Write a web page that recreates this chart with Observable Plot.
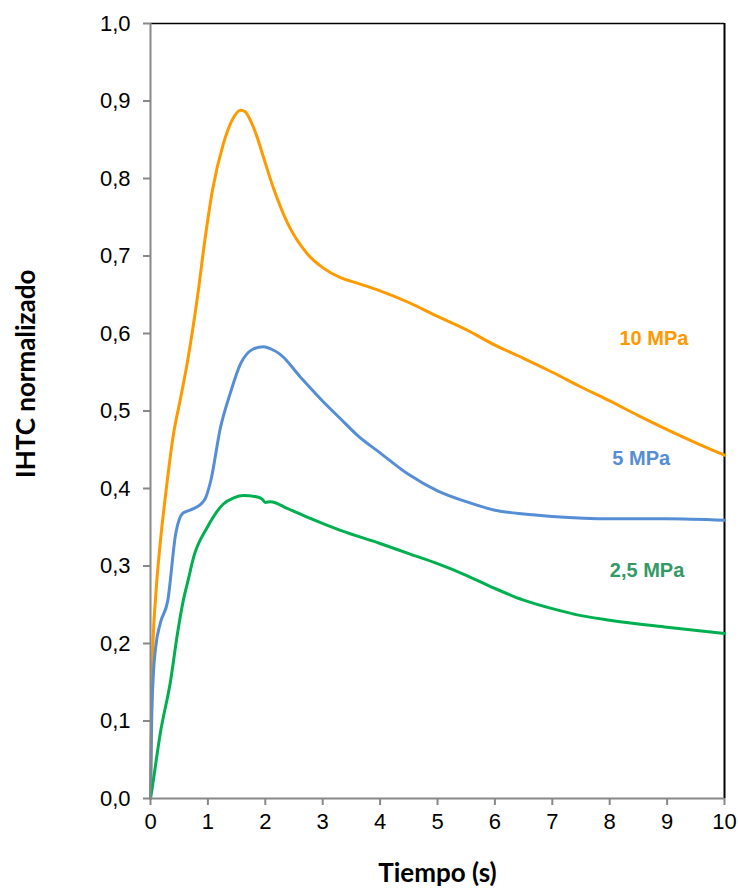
<!DOCTYPE html>
<html>
<head>
<meta charset="utf-8">
<script src="https://cdn.jsdelivr.net/npm/d3@7"></script>
<script src="https://cdn.jsdelivr.net/npm/@observablehq/plot@0.6"></script>
<style>
  html, body { margin: 0; padding: 0; background: #fff; }
  #chart { width: 738px; height: 888px; }
</style>
</head>
<body>
<div id="chart"></div>
<script>
// 10 MPa
const t10 = [0, 0.02, 0.04, 0.09, 0.17, 0.26, 0.40, 0.52, 0.64, 0.82, 0.95, 1.08, 1.27, 1.42, 1.57, 1.65, 1.74, 1.85, 1.97, 2.14, 2.39, 2.73, 3.0, 3.31, 3.6, 4.0, 4.5, 5.0, 5.5, 6.0, 6.5, 7.0, 7.5, 8.0, 8.5, 9.0, 9.5, 10.0];
const v10 = [0, 0.12, 0.19, 0.26, 0.33, 0.39, 0.47, 0.515, 0.562, 0.648, 0.722, 0.785, 0.845, 0.875, 0.888, 0.886, 0.875, 0.855, 0.827, 0.788, 0.742, 0.703, 0.685, 0.672, 0.665, 0.655, 0.64, 0.622, 0.605, 0.585, 0.568, 0.550, 0.531, 0.513, 0.494, 0.476, 0.459, 0.443];
// 5 MPa
const t5 = [0, 0.02, 0.05, 0.09, 0.17, 0.30, 0.44, 0.50, 0.56, 0.65, 0.75, 0.88, 0.96, 1.05, 1.22, 1.39, 1.57, 1.79, 1.97, 2.1, 2.26, 2.61, 3.01, 3.31, 3.6, 4.0, 4.5, 5.0, 5.5, 6.0, 6.5, 7.0, 8.0, 9.0, 10.0];
const v5 = [0, 0.10, 0.16, 0.195, 0.226, 0.255, 0.342, 0.36, 0.368, 0.371, 0.374, 0.380, 0.388, 0.41, 0.479, 0.523, 0.561, 0.580, 0.583, 0.580, 0.573, 0.544, 0.512, 0.490, 0.469, 0.446, 0.418, 0.397, 0.383, 0.372, 0.367, 0.364, 0.361, 0.361, 0.359];
// 2,5 MPa
const t25 = [0, 0.03, 0.17, 0.35, 0.47, 0.57, 0.66, 0.75, 0.99, 1.27, 1.45, 1.62, 1.86, 1.95, 2.0, 2.09, 2.39, 2.73, 3.31, 4.0, 4.5, 5.0, 5.5, 6.0, 6.5, 7.0, 7.5, 8.0, 9.0, 10.0];
const v25 = [0, 0.014, 0.084, 0.152, 0.213, 0.255, 0.283, 0.311, 0.350, 0.380, 0.388, 0.391, 0.389, 0.386, 0.382, 0.383, 0.374, 0.363, 0.346, 0.329, 0.316, 0.303, 0.288, 0.271, 0.256, 0.245, 0.236, 0.230, 0.221, 0.213];

const seriesNames = ["10 MPa", "5 MPa", "2,5 MPa"];
const lineColors = ["#FF9900", "#558ED5", "#00B050"];
const labelColors = ["#FF9900", "#558ED5", "#339966"];
const labelX = [8.77, 8.55, 8.65];
const labelY = [0.593, 0.438, 0.294];

const xTicks = [0,1,2,3,4,5,6,7,8,9,10];
const yTicks = [0,0.1,0.2,0.3,0.4,0.5,0.6,0.7,0.8,0.9,1.0];

const rows = [];
[[t10, v10], [t5, v5], [t25, v25]].forEach(([ts, vs], i) => {
  ts.forEach((t, j) => rows.push({series: seriesNames[i], t, v: vs[j]}));
});
const labels = seriesNames.map((s, i) => ({series: s, x: labelX[i], y: labelY[i], c: labelColors[i]}));

const fmt = d => d.toFixed(1).replace(".", ",");

const chart = Plot.plot({
  width: 738,
  height: 888,
  marginLeft: 150,
  marginRight: 14,
  marginTop: 23,
  marginBottom: 90,
  style: {fontFamily: "'Liberation Sans', Arial, sans-serif", fontSize: "22px", color: "#000", background: "#fff"},
  x: {domain: [0, 10]},
  y: {domain: [0, 1]},
  color: {domain: seriesNames, range: lineColors},
  marks: [
    Plot.ruleY([1], {stroke: "#000", strokeWidth: 1.5}),
    Plot.ruleX([10], {stroke: "#000", strokeWidth: 2}),
    Plot.line(rows, {x: "t", y: "v", z: "series", stroke: "series", strokeWidth: 3, curve: "monotone-x"}),
    Plot.ruleX([0], {stroke: "#888", strokeWidth: 2}),
    Plot.ruleY([0], {stroke: "#888", strokeWidth: 2}),
    Plot.axisY({ticks: yTicks, tickFormat: fmt, tickSize: 7, tickPadding: 13, stroke: "#888", strokeWidth: 2, label: null, fontSize: 22}),
    Plot.axisX({ticks: xTicks, tickFormat: d => String(d), tickSize: 7, tickPadding: 8, stroke: "#888", strokeWidth: 2, label: null, fontSize: 22}),
    Plot.text(labels, {x: "x", y: "y", text: "series", fill: "c", fontWeight: "bold", fontSize: 20, textAnchor: "middle"}),
    Plot.text(["Tiempo (s)"], {x: 5, y: 0, dy: 75, text: d => d, fontWeight: "bold", fontSize: 26, fontFamily: "Lato, sans-serif"}),
    Plot.text(["IHTC normalizado"], {x: 0, y: 0.548, dx: -124, rotate: -90, textAnchor: "middle", text: d => d, fontWeight: "bold", fontSize: 26, fontFamily: "Lato, sans-serif"})
  ]
});
document.getElementById("chart").appendChild(chart);
</script>
</body>
</html>
